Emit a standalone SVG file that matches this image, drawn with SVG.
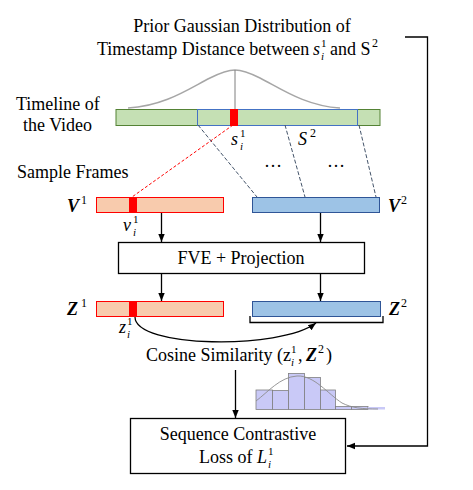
<svg xmlns="http://www.w3.org/2000/svg" width="473" height="490" viewBox="0 0 473 490">
<style>
text{font-family:"Liberation Serif","Times New Roman",serif;fill:#000}
.t{font-size:18px}
.it{font-style:italic}
.bi{font-style:italic;font-weight:bold;font-size:18px}
.s{font-size:12px}
.ss{font-size:11px}
.conn{stroke:#000;stroke-width:1.3;fill:none}
.bar1{fill:#f8cbad;stroke:#ff0000;stroke-width:1}
.bar2{fill:#9dc3e6;stroke:#2f5597;stroke-width:1}
.mark{fill:#ff0000}
.box{fill:#fff;stroke:#000;stroke-width:1.3}
.hb{fill:#c9c9f7;stroke:#7f7f7f;stroke-width:0.8}
</style>
<defs>
<marker id="ah" viewBox="0 0 10 10" refX="10" refY="5" markerWidth="8" markerHeight="8" markerUnits="userSpaceOnUse" orient="auto"><path d="M0,1 L10,5 L0,9 z" fill="#000"/></marker>
</defs>

<g id="title">
<text class="t" x="242" y="32" text-anchor="middle">Prior Gaussian Distribution of</text>
<text class="t" x="97" y="55">Timestamp Distance between</text>
<text class="t it" x="313" y="55">s</text>
<text class="ss" x="321" y="47">1</text>
<text class="ss it" x="321" y="60">i</text>
<text class="t" x="330" y="55">and S</text>
<text class="s" x="372" y="47">2</text>
</g>

<g id="timeline-label">
<text class="t" x="16" y="110">Timeline of</text>
<text class="t" x="23" y="131">the Video</text>
</g>

<g id="gaussian">
<path d="M128,108 C165,106 190,88 210,78 C222,72 228,70 235,70 C242,70 248,72 260,78 C280,88 305,106 340,108" fill="none" stroke="#a6a6a6" stroke-width="1.5"/>
<line x1="235" y1="70" x2="235" y2="109" stroke="#7f7f7f" stroke-width="1"/>
</g>

<g id="timeline">
<rect x="116" y="109.5" width="264" height="16" fill="#c5e0b4" stroke="#548235" stroke-width="1"/>
<rect x="197.5" y="109.5" width="160" height="16" fill="none" stroke="#4472c4" stroke-width="1"/>
<rect class="mark" x="230" y="109" width="8" height="17"/>
<text class="t it" x="231" y="145">s</text>
<text class="ss" x="240" y="137">1</text>
<text class="ss it" x="240" y="150">i</text>
<text class="t it" x="298" y="145">S</text>
<text class="s" x="310" y="137">2</text>
</g>

<g id="dots">
<text class="t" x="273" y="167" text-anchor="middle">…</text>
<text class="t" x="336" y="167" text-anchor="middle">…</text>
</g>

<g id="sample-frames-label">
<text class="t" x="17" y="178">Sample Frames</text>
</g>

<g id="V1">
<rect class="bar1" x="96.5" y="197.5" width="127" height="15"/>
<rect class="mark" x="129" y="197" width="8" height="16"/>
<text class="bi" x="67" y="212">V</text>
<text class="s" x="81" y="204">1</text>
<text class="t it" x="123" y="231">v</text>
<text class="ss" x="133" y="223">1</text>
<text class="ss it" x="133" y="236">i</text>
</g>

<g id="V2">
<rect class="bar2" x="252.5" y="197.5" width="127" height="15"/>
<text class="bi" x="388" y="212">V</text>
<text class="s" x="401" y="204">2</text>
</g>

<g id="fve">
<rect class="box" x="118.5" y="242.5" width="246" height="31"/>
<text class="t" x="241" y="264" text-anchor="middle">FVE + Projection</text>
</g>

<g id="Z1">
<rect class="bar1" x="96.5" y="301.5" width="127" height="15"/>
<rect class="mark" x="129" y="301" width="8" height="16"/>
<text class="bi" x="67" y="315">Z</text>
<text class="s" x="81" y="307">1</text>
<text class="t it" x="119" y="333">z</text>
<text class="ss" x="127" y="325">1</text>
<text class="ss it" x="127" y="338">i</text>
</g>

<g id="Z2">
<rect class="bar2" x="252.5" y="301.5" width="128" height="15"/>
<path d="M250,316 V322.5 H383 V316" fill="none" stroke="#000" stroke-width="1.3"/>
<text class="bi" x="389" y="315">Z</text>
<text class="s" x="401" y="307">2</text>
</g>

<g id="cosine">
<text class="t" x="146" y="361">Cosine Similarity (z</text>
<text class="ss" x="291" y="353">1</text>
<text class="ss it" x="291" y="366">i</text>
<text class="t" x="298" y="361">,</text>
<text class="bi" x="306" y="361">Z</text>
<text class="s" x="318" y="353">2</text>
<text class="t" x="326" y="361">)</text>
</g>

<g id="histogram">
<rect class="hb" x="256" y="390" width="16.5" height="19.5"/>
<rect class="hb" x="272.5" y="390.5" width="16" height="19"/>
<rect class="hb" x="288.5" y="373.5" width="16" height="36"/>
<rect class="hb" x="304.5" y="377.5" width="16" height="32"/>
<rect class="hb" x="320.5" y="390" width="15" height="19.5"/>
<rect class="hb" x="335.5" y="406.5" width="16" height="3"/>
<rect class="hb" x="351.5" y="406.5" width="16.5" height="3"/>
<rect x="368" y="407" width="17" height="2.5" fill="#c9c9f7"/>
<path d="M256,401 C268,392 280,377 297,376 C314,375 328,394 342,403 C352,408 362,409 378,409" fill="none" stroke="#8c8c8c" stroke-width="0.9"/>
</g>

<g id="loss">
<rect class="box" x="130.5" y="418.5" width="215" height="55"/>
<text class="t" x="238" y="440" text-anchor="middle">Sequence Contrastive</text>
<text class="t" x="199" y="463">Loss of</text>
<text class="t it" x="257" y="463">L</text>
<text class="ss" x="268" y="455">1</text>
<text class="ss it" x="268" y="468">i</text>
</g>

<g id="connectors">
<line x1="233" y1="125" x2="132" y2="197" stroke="#ff0000" stroke-width="1" stroke-dasharray="3,2"/>
<line x1="198" y1="125" x2="257" y2="197" stroke="#44546a" stroke-width="1" stroke-dasharray="4,2"/>
<line x1="285" y1="125" x2="305" y2="197" stroke="#44546a" stroke-width="1" stroke-dasharray="4,2"/>
<line x1="359" y1="125" x2="376" y2="197" stroke="#44546a" stroke-width="1" stroke-dasharray="4,2"/>
<line class="conn" x1="161.5" y1="213" x2="161.5" y2="242" marker-end="url(#ah)"/>
<line class="conn" x1="320.5" y1="213" x2="320.5" y2="242" marker-end="url(#ah)"/>
<line class="conn" x1="161.5" y1="274" x2="161.5" y2="301" marker-end="url(#ah)"/>
<line class="conn" x1="320.5" y1="274" x2="320.5" y2="301" marker-end="url(#ah)"/>
<path class="conn" d="M135,317 C135,348 280,350 316,323" marker-end="url(#ah)"/>
<line class="conn" x1="235.5" y1="370" x2="235.5" y2="418" marker-end="url(#ah)"/>
<path class="conn" d="M405,37 H427.5 V446 H347" marker-end="url(#ah)"/>
</g>
</svg>
